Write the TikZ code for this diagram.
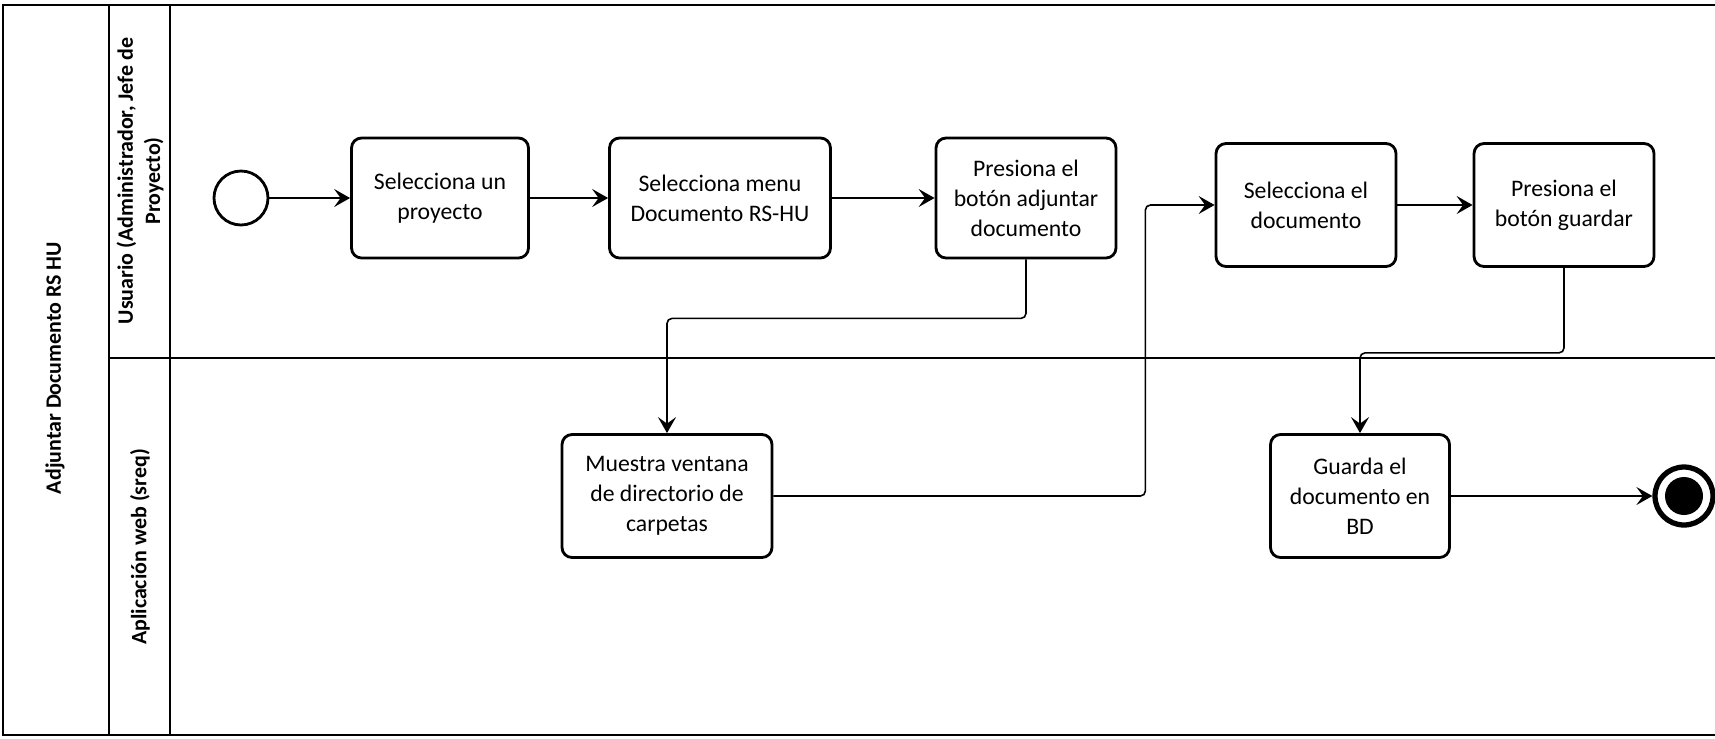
\documentclass[tikz,border=0pt]{standalone}
\usepackage{fontspec}
\setmainfont{Carlito}
\usetikzlibrary{arrows.meta}

\begin{document}
\begin{tikzpicture}[x=0.02cm, y=-0.02cm,
	tarea/.style={draw, line width=1.6pt, rounded corners=0.2cm, minimum height=2.4cm, align=center, font=\fontsize{13.5}{17}\selectfont},
	flujo/.style={-{Stealth[length=3.2mm,width=3.6mm,inset=1.3mm]}, line width=0.9pt, rounded corners=0.1cm},
	carril/.style={rotate=90, align=center, font=\bfseries\fontsize{12.5}{15.5}\selectfont}]
		
		\useasboundingbox (0,0) rectangle (1715,738);
		
		% pool y carriles
		\draw[line width=1pt] (1715,5) -- (3,5) -- (3,735) -- (1715,735);
		\draw[line width=0.6pt] (109,5) -- (109,735);
		\draw[line width=0.6pt] (170,5) -- (170,735);
		\draw[line width=0.6pt] (109,358) -- (1715,358);
		
		\node[carril] (pool) at (55,368) {Adjuntar Documento RS HU};
		\node[carril] (usuario) at (140,181) {Usuario (Administrador, Jefe de\\Proyecto)};
		\node[carril] (web) at (140,547) {Aplicación web (sreq)};
		
		\node[draw, circle, line width=1.6pt, minimum size=1.08cm] (inicio) at (241,198) {};
		\node[tarea, minimum width=3.54cm] (proyecto) at (440,198) {Selecciona un\\proyecto};
		\node[tarea, minimum width=4.42cm] (menu) at (720,198) {Selecciona menu\\Documento RS-HU};
		\node[tarea, minimum width=3.6cm] (adjuntar) at (1026,198) {Presiona el\\botón adjuntar\\documento};
		\node[tarea, minimum width=3.6cm, minimum height=2.46cm] (seldoc) at (1306,205) {Selecciona el\\documento};
		\node[tarea, minimum width=3.6cm, minimum height=2.46cm] (guardar) at (1564,205) {Presiona el\\botón guardar};
		\node[tarea, minimum width=4.2cm, minimum height=2.46cm] (ventana) at (667,496) {Muestra ventana\\de directorio de\\carpetas};
		\node[tarea, minimum width=3.58cm, minimum height=2.46cm] (guardabd) at (1360,496) {Guarda el\\documento en\\BD};
		\node[draw, circle, line width=3pt, minimum size=1.16cm] (fin) at (1684,496) {};
		\node[fill, circle, inner sep=0pt, minimum size=0.76cm] (finint) at (fin) {};
		
		\draw[flujo] (inicio) -- (proyecto);
		\draw[flujo] (proyecto) -- (menu);
		\draw[flujo] (menu) -- (adjuntar);
		\draw[flujo] (adjuntar.south) -- ++(0,59) -| (ventana.north);
		\draw[flujo] (ventana.east) -- ++(372,0) |- (seldoc.west);
		\draw[flujo] (seldoc) -- (guardar);
		\draw[flujo] (guardar.south) -- ++(0,85) -| (guardabd.north);
		\draw[flujo] (guardabd) -- (fin);
		
	\end{tikzpicture}
\end{document}
